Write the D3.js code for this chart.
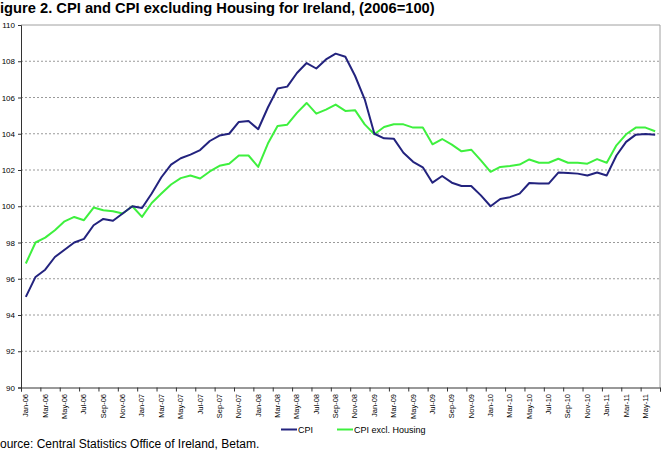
<!DOCTYPE html>
<html>
<head>
<meta charset="utf-8">
<script src="https://cdn.jsdelivr.net/npm/d3@7/dist/d3.min.js"></script>
<style>
  body { margin: 0; background: #fff; }
  svg { display: block; font-family: "Liberation Sans", Arial, sans-serif; }
</style>
</head>
<body>
<svg id="chart" width="663" height="451"></svg>
<script>
// monthly index, Jan-06 .. Jun-11
const months = [
  'Jan-06','Feb-06','Mar-06','Apr-06','May-06','Jun-06','Jul-06','Aug-06','Sep-06','Oct-06','Nov-06','Dec-06',
  'Jan-07','Feb-07','Mar-07','Apr-07','May-07','Jun-07','Jul-07','Aug-07','Sep-07','Oct-07','Nov-07','Dec-07',
  'Jan-08','Feb-08','Mar-08','Apr-08','May-08','Jun-08','Jul-08','Aug-08','Sep-08','Oct-08','Nov-08','Dec-08',
  'Jan-09','Feb-09','Mar-09','Apr-09','May-09','Jun-09','Jul-09','Aug-09','Sep-09','Oct-09','Nov-09','Dec-09',
  'Jan-10','Feb-10','Mar-10','Apr-10','May-10','Jun-10','Jul-10','Aug-10','Sep-10','Oct-10','Nov-10','Dec-10',
  'Jan-11','Feb-11','Mar-11','Apr-11','May-11','Jun-11'
];

const cpi = [
  95.0, 96.1, 96.5, 97.2, 97.6, 98.0, 98.2, 98.95, 99.3, 99.2, 99.6, 100.0,
  99.9, 100.7, 101.6, 102.3, 102.65, 102.85, 103.1, 103.6, 103.9, 104.0, 104.65, 104.7,
  104.25, 105.45, 106.5, 106.6, 107.35, 107.9, 107.6, 108.1, 108.42, 108.25, 107.2, 105.9,
  104.0, 103.75, 103.73, 102.95, 102.45, 102.15, 101.3, 101.67, 101.3, 101.12, 101.12, 100.6,
  100.0, 100.4, 100.5, 100.7, 101.28, 101.25, 101.25, 101.86, 101.84, 101.8, 101.7, 101.86,
  101.7, 102.8, 103.55, 103.95, 103.98, 103.95
];

const cpiExHousing = [
  96.84, 98.0, 98.27, 98.68, 99.17, 99.41, 99.23, 99.93, 99.78, 99.72, 99.6, 100.0,
  99.41, 100.18, 100.7, 101.2, 101.55, 101.7, 101.53, 101.92, 102.23, 102.35, 102.8, 102.8,
  102.17, 103.46, 104.43, 104.5, 105.15, 105.7, 105.11, 105.33, 105.61, 105.26, 105.3, 104.52,
  103.97, 104.37, 104.52, 104.52, 104.34, 104.34, 103.42, 103.71, 103.4, 103.03, 103.12, 102.53,
  101.9, 102.17, 102.22, 102.3, 102.58, 102.4, 102.4, 102.62, 102.4, 102.4, 102.35, 102.6,
  102.4, 103.36, 103.97, 104.34, 104.34, 104.14
];

const yTicks = [90, 92, 94, 96, 98, 100, 102, 104, 106, 108, 110];

const series = [
  { name: 'CPI', values: cpi, color: '#23237e' },
  { name: 'CPI excl. Housing', values: cpiExHousing, color: '#3ef03e' }
];

const svg = d3.select('#chart');
const plotLeft = 21, plotRight = 660, plotTop = 25, plotBottom = 387.5;

const x = d3.scaleBand().domain(months).range([plotLeft, plotRight]).padding(0);
const xEdge = d3.scaleLinear().domain([0, months.length]).range([plotLeft, plotRight]);
const y = d3.scaleLinear().domain([90, 110]).range([plotBottom, plotTop]);

// title and source, as far as they show in the cropped original
svg.append('text')
    .attr('x', 0).attr('y', 12.5)
    .attr('font-size', 14.7).attr('font-weight', 'bold').attr('fill', '#000')
    .text('igure 2. CPI and CPI excluding Housing for Ireland, (2006=100)');

svg.append('text')
    .attr('x', 0).attr('y', 448)
    .attr('font-size', 12).attr('fill', '#000')
    .text('ource: Central Statistics Office of Ireland, Betam.');

// gridlines
svg.append('g')
    .selectAll('line')
    .data(yTicks.filter(d => d > 90 && d < 110))
    .enter().append('line')
    .attr('x1', plotLeft).attr('x2', plotRight)
    .attr('y1', d => y(d)).attr('y2', d => y(d))
    .attr('stroke', '#9a9a9a')
    .attr('stroke-width', 1)
    .attr('stroke-dasharray', '2,2');

// plot frame (top and right)
svg.append('path')
    .attr('d', `M${plotLeft},${plotTop}H${plotRight}V${plotBottom}`)
    .attr('fill', 'none')
    .attr('stroke', '#a0a0a0')
    .attr('stroke-width', 1);

// y axis
const yAxis = svg.append('g')
    .attr('transform', `translate(${plotLeft},0)`)
    .call(d3.axisLeft(y).tickValues(yTicks).tickSize(3).tickPadding(3).tickFormat(d3.format('d')));
yAxis.select('.domain').attr('stroke', '#333');
yAxis.selectAll('.tick line').attr('stroke', '#333');
yAxis.selectAll('text').attr('font-size', 8).attr('fill', '#000')
    .attr('font-family', '"Liberation Sans", Arial, sans-serif');

// x axis: tick marks on category edges, every two months
const xTicks = svg.append('g')
    .attr('transform', `translate(0,${plotBottom})`)
    .call(d3.axisBottom(xEdge).tickValues(d3.range(0, months.length + 1, 2)).tickSize(4).tickFormat(''));
xTicks.select('.domain').attr('stroke', '#333');
xTicks.selectAll('.tick line').attr('stroke', '#333');

// x labels, rotated
const xLabels = svg.append('g')
    .attr('transform', `translate(0,${plotBottom})`)
    .call(d3.axisBottom(x).tickValues(months.filter((m, i) => i % 2 === 0)).tickSize(0));
xLabels.select('.domain').remove();
xLabels.selectAll('text')
    .attr('font-size', 7.5).attr('fill', '#000')
    .attr('font-family', '"Liberation Sans", Arial, sans-serif')
    .attr('text-anchor', 'end')
    .attr('dy', '0.32em')
    .attr('transform', 'translate(0,6.5) rotate(-90)')
    .attr('x', 0).attr('y', 0);

// lines
const line = d3.line()
    .x((d, i) => x(months[i]) + x.bandwidth() / 2)
    .y(d => y(d));

svg.append('g')
    .selectAll('path')
    .data(series.slice().reverse())
    .enter().append('path')
    .attr('d', d => line(d.values))
    .attr('fill', 'none')
    .attr('stroke', d => d.color)
    .attr('stroke-width', 2)
    .attr('stroke-linejoin', 'round');

// legend
const legendX = [281, 337];
const legend = svg.append('g')
    .selectAll('g')
    .data(series)
    .enter().append('g')
    .attr('transform', (d, i) => `translate(${legendX[i]},429.5)`);
legend.append('line')
    .attr('x1', 0).attr('x2', 16)
    .attr('stroke', d => d.color)
    .attr('stroke-width', 2);
legend.append('text')
    .attr('x', 17).attr('dy', '0.35em')
    .attr('font-size', 9).attr('fill', '#000')
    .text(d => d.name);
</script>
</body>
</html>
